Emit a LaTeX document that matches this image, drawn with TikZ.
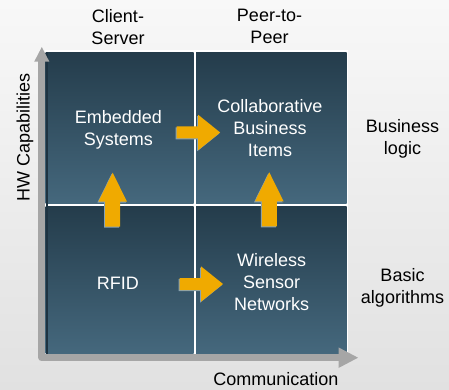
\documentclass[tikz,border=0pt]{standalone}
\usepackage{fontspec}
\setmainfont{Liberation Sans}
\usetikzlibrary{arrows.meta}
\newcommand\linestack[1]{\vtop{\halign{\hfil##\hfil\cr#1\crcr}}}
\definecolor{bgtop}{HTML}{F8F8F8}
\definecolor{bgbot}{HTML}{E1E1E1}
\definecolor{celltop}{HTML}{243C4B}
\definecolor{cellbot}{HTML}{45687D}
\definecolor{axisgray}{HTML}{A6A6A6}
\definecolor{orangefill}{HTML}{F0AA00}
\definecolor{arrowshadow}{HTML}{86A2B6}
\definecolor{edgedark}{HTML}{1E3341}
\begin{document}
\begin{tikzpicture}[x=1pt,y=-1pt,
  cell/.style={draw=none, top color=celltop, bottom color=cellbot, inner sep=0pt, anchor=north west},
  celltext/.style={text=white, font=\fontsize{18}{22}\selectfont, inner sep=0pt, anchor=base},
  outtext/.style={text=black, font=\fontsize{18}{22}\selectfont, inner sep=0pt, anchor=base},
  axisline/.style={axisgray, line width=7pt, line join=round},
  pics/rblock/.style={code={
    \fill[arrowshadow, shift={(-1,1)}] (0,-6) -- (21.5,-6) -- (21.5,-17.7) -- (43.5,0) -- (21.5,17.7) -- (21.5,6) -- (0,6) -- cycle;
    \fill[orangefill] (0,-6) -- (21.5,-6) -- (21.5,-17.7) -- (43.5,0) -- (21.5,17.7) -- (21.5,6) -- (0,6) -- cycle;
  }},
  pics/ublock/.style={code={
    \fill[arrowshadow, shift={(-1,1)}] (-7.5,0) -- (-7.5,-25) -- (-14.3,-25) -- (0,-54) -- (14.3,-25) -- (7.5,-25) -- (7.5,0) -- cycle;
    \fill[orangefill] (-7.5,0) -- (-7.5,-25) -- (-14.3,-25) -- (0,-54) -- (14.3,-25) -- (7.5,-25) -- (7.5,0) -- cycle;
  }}
]
\useasboundingbox (0,0) rectangle (449,390);
\shade[top color=bgtop, bottom color=bgbot] (0,0) rectangle (449,390);

% white backdrop
\fill[white] (44.5,50.5) rectangle (348,355);

% cells
\node[cell, minimum width=148pt, minimum height=151.5pt] (tl) at (45.5,52) {};
\node[cell, minimum width=150.5pt, minimum height=151.5pt] (tr) at (196,52) {};
\node[cell, minimum width=148pt, minimum height=147.5pt] (bl) at (45.5,206) {};
\node[cell, minimum width=150.5pt, minimum height=147.5pt] (br) at (196,206) {};
\fill[edgedark] (45.5,52) rectangle (48.3,353.5);

% axes
\coordinate (origin) at (41.8,357.7);
\coordinate (ytip) at (41.8,46.7);
\coordinate (xtip) at (358.5,357.7);
\draw[axisline, {Triangle[width=14pt,length=15pt]}-{Triangle[width=19pt,length=20pt]}] (ytip) -- (origin) -- (xtip);

% cell texts
\node[celltext] (es) at (118.3,124) {\linestack{Embedded\cr Systems}};
\node[celltext] (cbi) at (270,112.7) {\linestack{Collaborative\cr Business\cr Items}};
\node[celltext] (rfid) at (117.8,289) {RFID};
\node[celltext] (wsn) at (271.7,266) {\linestack{Wireless\cr Sensor\cr Networks}};

% block arrows
\pic at (176.7,132.5) {rblock};
\pic at (179.5,284) {rblock};
\pic at (112.7,226.7) {ublock};
\pic at (269.3,226.3) {ublock};

% outer labels
\node[outtext] (cs) at (118,22.5) {\linestack{Client-\cr Server}};
\node[outtext] (p2p) at (269.5,22) {\linestack{Peer-to-\cr Peer}};
\node[outtext] (bl1) at (402.5,132.7) {\linestack{Business\cr logic}};
\node[outtext] (ba) at (402.5,281.7) {\linestack{Basic\cr algorithms}};
\node[outtext] (comm) at (276,385) {Communication};
\node[outtext, rotate=90] (hw) at (29.5,137.5) {HW Capabilities};
\end{tikzpicture}
\end{document}
